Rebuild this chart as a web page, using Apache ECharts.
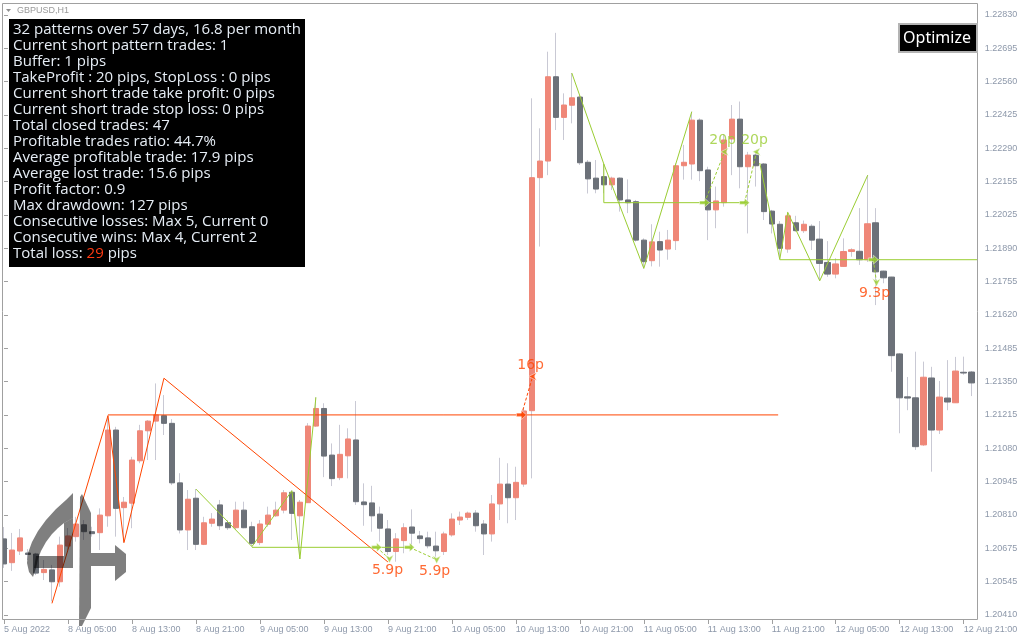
<!DOCTYPE html>
<html><head><meta charset="utf-8">
<script src="https://cdn.jsdelivr.net/npm/echarts/dist/echarts.min.js"></script>
<style>html,body{margin:0;padding:0;background:#fff}#c{width:1024px;height:640px}</style>
</head><body><div id="c"></div>
<script>
// ---- data (GBPUSD H1) ----
const tickLabels = ['5 Aug 2022','8 Aug 05:00','8 Aug 13:00','8 Aug 21:00','9 Aug 05:00','9 Aug 13:00','9 Aug 21:00','10 Aug 05:00','10 Aug 13:00','10 Aug 21:00','11 Aug 05:00','11 Aug 13:00','11 Aug 21:00','12 Aug 05:00','12 Aug 13:00','12 Aug 21:00'];
const priceLabels = ['1.20410','1.20545','1.20675','1.20810','1.20945','1.21080','1.21215','1.21350','1.21485','1.21620','1.21755','1.21890','1.22025','1.22155','1.22290','1.22425','1.22560','1.22695','1.22830'];
const opens = [1.20717,1.20621,1.20668,1.20660,1.20656,1.20581,1.20592,1.20544,1.20688,1.20726,1.20774,1.20746,1.20742,1.20810,1.21156,1.20843,1.20861,1.21032,1.21153,1.21192,1.21214,1.21183,1.20943,1.20753,1.20881,1.20695,1.20780,1.20854,1.20782,1.20762,1.20833,1.20766,1.20702,1.20776,1.20810,1.20833,1.20905,1.20810,1.20863,1.21172,1.21243,1.21055,1.20964,1.21052,1.21116,1.20866,1.20862,1.20817,1.20757,1.20666,1.20710,1.20765,1.20729,1.20721,1.20688,1.20666,1.20733,1.20793,1.20804,1.20821,1.20777,1.20737,1.20858,1.20938,1.20883,1.20938,1.21234,1.22174,1.22241,1.22581,1.22417,1.22466,1.22499,1.22236,1.22172,1.22178,1.22145,1.22172,1.22084,1.22077,1.21922,1.21839,1.21916,1.21886,1.21920,1.22222,1.22229,1.22406,1.22205,1.22044,1.22073,1.22330,1.22410,1.22218,1.22265,1.22229,1.22039,1.21986,1.21886,1.21992,1.21960,1.21978,1.21926,1.21832,1.21785,1.21816,1.21876,1.21877,1.21843,1.21992,1.21797,1.21773,1.21463,1.21290,1.21286,1.21096,1.21366,1.21156,1.21285,1.21266,1.21389,1.21390];
const closes = [1.20616,1.20672,1.20721,1.20654,1.20579,1.20594,1.20544,1.20692,1.20729,1.20777,1.20746,1.20738,1.20813,1.21156,1.20840,1.20865,1.21035,1.21153,1.21192,1.21217,1.21183,1.20943,1.20753,1.20877,1.20695,1.20782,1.20797,1.20770,1.20762,1.20833,1.20762,1.20699,1.20777,1.20813,1.20833,1.20903,1.20820,1.20865,1.21172,1.21243,1.21051,1.20960,1.21058,1.21120,1.20867,1.20855,1.20810,1.20760,1.20666,1.20717,1.20762,1.20740,1.20718,1.20689,1.20669,1.20737,1.20797,1.20805,1.20821,1.20770,1.20737,1.20858,1.20938,1.20883,1.20945,1.21233,1.22174,1.22241,1.22581,1.22417,1.22467,1.22496,1.22234,1.22169,1.22128,1.22145,1.22172,1.22084,1.22073,1.21922,1.21835,1.21915,1.21882,1.21922,1.22222,1.22236,1.22406,1.22202,1.22044,1.22080,1.22326,1.22410,1.22218,1.22265,1.22222,1.22037,1.21987,1.21889,1.22020,1.21960,1.21986,1.21922,1.21828,1.21785,1.21826,1.21876,1.21883,1.21843,1.21988,1.21794,1.21770,1.21456,1.21286,1.21285,1.21089,1.21369,1.21156,1.21289,1.21269,1.21394,1.21386,1.21346];
const lows = [1.20600,1.20588,1.20652,1.20632,1.20571,1.20551,1.20465,1.20524,1.20672,1.20706,1.20713,1.20726,1.20672,1.20766,1.20726,1.20702,1.20760,1.21022,1.21035,1.21035,1.21136,1.20934,1.20739,1.20672,1.20672,1.20692,1.20766,1.20753,1.20753,1.20753,1.20760,1.20686,1.20692,1.20766,1.20806,1.20820,1.20713,1.20636,1.20862,1.21169,1.20966,1.20930,1.20954,1.20961,1.20854,1.20770,1.20746,1.20706,1.20652,1.20625,1.20659,1.20672,1.20699,1.20679,1.20645,1.20652,1.20726,1.20773,1.20793,1.20746,1.20652,1.20706,1.20793,1.20780,1.20793,1.20927,1.20961,1.21896,1.22184,1.22366,1.22326,1.22393,1.22225,1.22110,1.22111,1.22111,1.22124,1.22037,1.22031,1.21916,1.21808,1.21816,1.21815,1.21843,1.21882,1.22166,1.22166,1.22160,1.21922,1.21970,1.22057,1.22184,1.22131,1.21949,1.22138,1.22003,1.21949,1.21845,1.21871,1.21956,1.21951,1.21882,1.21758,1.21774,1.21768,1.21815,1.21855,1.21822,1.21834,1.21660,1.21748,1.21391,1.21143,1.21236,1.21076,1.21092,1.20988,1.21140,1.21236,1.21265,1.21379,1.21293];
const highs = [1.20765,1.20741,1.20757,1.20676,1.20661,1.20632,1.20612,1.20726,1.20761,1.20806,1.20793,1.20766,1.20840,1.21214,1.21169,1.20886,1.21048,1.21177,1.21196,1.21344,1.21297,1.21200,1.20982,1.20914,1.20918,1.20806,1.20821,1.20874,1.20793,1.20867,1.20867,1.20786,1.20793,1.20847,1.20867,1.20914,1.20914,1.20874,1.21184,1.21288,1.21264,1.21102,1.21177,1.21163,1.21273,1.20941,1.20931,1.20847,1.20793,1.20740,1.20780,1.20836,1.20749,1.20746,1.20746,1.20746,1.20820,1.20827,1.20827,1.20833,1.20793,1.20894,1.21044,1.21022,1.21008,1.21246,1.22494,1.22373,1.22682,1.22758,1.22514,1.22596,1.22507,1.22245,1.22245,1.22229,1.22178,1.22175,1.22167,1.22084,1.21929,1.21986,1.21956,1.21963,1.22232,1.22306,1.22440,1.22413,1.22218,1.22138,1.22350,1.22467,1.22481,1.22278,1.22278,1.22233,1.22044,1.21999,1.22036,1.22020,1.22001,1.21986,1.21999,1.21918,1.21849,1.21929,1.21889,1.22051,1.22184,1.22051,1.21799,1.21774,1.21466,1.21370,1.21472,1.21432,1.21411,1.21354,1.21438,1.21451,1.21452,1.21394];

// pattern lines: [bar index, price]
const orangeZigzag = [[6,1.20457],[13,1.21214],[15,1.20702],[20,1.21365],[48,1.20624]];
const orangeNeck = [[13,1.21217],[96.8,1.21217]];
const greenZigzag1 = [[24,1.20918],[31,1.20686],[36,1.20911],[37,1.20636],[39,1.21288]];
const greenNeck1 = [[31,1.20683],[50.8,1.20683]];
const greenZigzag2 = [[71,1.22596],[75,1.22229],[80,1.21808],[86,1.22440]];
const greenDrop2 = [[75,1.22229],[75,1.22073]];
const greenNeck2 = [[75,1.22073],[92.9,1.22073]];
const greenZigzag3 = [[94.5,1.22233],[97,1.21844],[98,1.22034],[102,1.21758],[108,1.22184]];
const greenNeck3 = [[97,1.21843],[121.8,1.21843]];

// trades: entry bar, entry price, exit bar, exit price, label
const tradeEntryBar  = [64.7, 46.6, 50.7, 87.6, 92.6, 108.7];
const tradeEntryPrice= [1.21217, 1.20683, 1.20683, 1.22073, 1.22073, 1.21843];
const tradeExitBar   = [66.1, 48.2, 54.1, 90.1, 94.1, 109.1];
const tradeExitPrice = [1.21372, 1.20636, 1.20633, 1.22278, 1.22278, 1.21751];
const tradeLabels    = ['16p','5.9p','5.9p','20p','20p','9.3p'];
const tradeSide      = ['orange','green','green','green','green','green'];
const tradeWin       = [true,false,false,true,true,false];

const infoLines = ['32 patterns over 57 days, 16.8 per month','Current short pattern trades: 1','Buffer: 1 pips','TakeProfit : 20 pips, StopLoss : 0 pips','Current short trade take profit: 0 pips','Current short trade stop loss: 0 pips','Total closed trades: 47','Profitable trades ratio: 44.7%','Average profitable trade: 17.9 pips','Average lost trade: 15.6 pips','Profit factor: 0.9','Max drawdown: 127 pips','Consecutive losses: Max 5, Current 0','Consecutive wins: Max 4, Current 2'];
const totalLossLabel = 'Total loss: ';
const totalLossValue = '29';

// ---- styling ----
const BULL = '#ef8778', BEAR = '#6c7179', WICK = '#c9c9d4';
const ORANGE = '#ff4500', GREEN = '#9acd32';
const AXIS_TEXT = '#8d98aa', FRAME = '#a0a0a0';

const N = opens.length;
const cats = opens.map((_, i) => (i % 8 === 0 ? tickLabels[i / 8] : ''));
const Y_MIN = +priceLabels[0], Y_MAX = +priceLabels[priceLabels.length - 1];
const Y_INT = (Y_MAX - Y_MIN) / (priceLabels.length - 1);

const wickData = opens.map((o, i) => [o, closes[i], lows[i], highs[i]]);
const bodyData = opens.map((o, i) => [o, closes[i], Math.min(o, closes[i]), Math.max(o, closes[i])]);

function ln(data, color, extra) {
  return Object.assign({ type: 'line', xAxisIndex: 1, yAxisIndex: 0, data: data, symbol: 'none', silent: true,
    lineStyle: { color: color, width: 1 }, z: 5 }, extra || {});
}

const series = [
  { type: 'candlestick', xAxisIndex: 0, data: wickData, barWidth: 1, silent: true, z: 2,
    itemStyle: { color: WICK, color0: WICK, borderColor: WICK, borderColor0: WICK, borderWidth: 1 } },
  { type: 'candlestick', xAxisIndex: 0, data: bodyData, barWidth: 6, silent: true, z: 3,
    itemStyle: { color: BULL, color0: BEAR, borderColor: BULL, borderColor0: BEAR, borderWidth: 1 } },
  ln(orangeZigzag, ORANGE), ln(orangeNeck, ORANGE),
  ln(greenZigzag1, GREEN), ln(greenNeck1, GREEN),
  ln(greenZigzag2, GREEN), ln(greenDrop2, GREEN), ln(greenNeck2, GREEN),
  ln(greenZigzag3, GREEN), ln(greenNeck3, GREEN, { clip: false })
];

const ENTRY_SYM = 'path://M0,3 L5,3 L5,0 L10,5 L5,10 L5,7 L0,7 Z';
const EXIT_UP_SYM = 'path://M10,0 L0,5 L10,10 L7,5 Z';
const EXIT_DN_SYM = 'path://M0,0 L5,10 L10,0 L5,3 Z';
for (let i = 0; i < tradeLabels.length; i++) {
  const col = tradeSide[i] === 'orange' ? ORANGE : GREEN;
  const up = tradeExitPrice[i] > tradeEntryPrice[i];
  const e = [tradeEntryBar[i], tradeEntryPrice[i]], x = [tradeExitBar[i], tradeExitPrice[i]];
  series.push(ln([e, x], col, { lineStyle: { color: col, width: 1, type: [3, 2] }, z: 6 }));
  series.push({ type: 'scatter', xAxisIndex: 1, data: [e], symbol: ENTRY_SYM, symbolSize: [10, 9], silent: true, z: 7,
    itemStyle: { color: col, borderColor: '#fff', borderWidth: 0.6 } });
  series.push({ type: 'scatter', xAxisIndex: 1, data: [x], symbol: up ? EXIT_UP_SYM : EXIT_DN_SYM, symbolSize: [8, 8], silent: true, z: 7,
    itemStyle: { color: col, borderColor: '#fff', borderWidth: 0.6 },
    label: { show: true, formatter: tradeLabels[i], position: up ? 'top' : 'bottom', distance: 0, offset: [-2, 0],
      color: tradeWin[i] && tradeSide[i] === 'green' ? GREEN : ORANGE, fontSize: 14, fontFamily: 'DejaVu Sans' } });
}

// watermark logo (decorative)
const LOGO = 'rgba(0,0,0,0.5)';
const logo = [
  { type: 'polygon', shape: { points: [[80,497],[82,494],[91,513],[91,608],[82,626],[79,626]] } },
  { type: 'polygon', shape: { points: [[73,493],[66,500],[56,509],[46,520],[38,531],[32,542],[28,553],[27,563],[29,572],[33,577],[36,568],[38,559],[41,551],[46,542],[52,534],[58,528],[64,523],[73,518]] } },
  { type: 'polygon', shape: { points: [[64,523],[73,518],[73,568],[64,568]] } },
  { type: 'polygon', shape: { points: [[36,556],[64,556],[64,568],[34,568]] } },
  { type: 'polygon', shape: { points: [[91,553],[115,553],[115,566],[91,566]] } },
  { type: 'polygon', shape: { points: [[115,545],[126,554],[126,572],[115,581]] } }
].map(g => Object.assign(g, { style: { fill: LOGO }, z: 50, silent: true }));

const graphics = logo.concat([
  { type: 'rect', shape: { x: 0, y: 0, width: 2, height: 640 }, style: { fill: '#fff' }, z: 90, silent: true },
  { type: 'rect', shape: { x: 2.5, y: 3.5, width: 975, height: 616 }, style: { fill: null, stroke: FRAME, lineWidth: 1 }, z: 91, silent: true },
  { type: 'polygon', shape: { points: [[6,9],[11,9],[8.5,12]] }, style: { fill: '#909090' }, z: 92 },
  { type: 'text', x: 17, y: 11, style: { text: 'GBPUSD,H1', fill: '#9a9a9a', font: '9px "Liberation Sans"', textVerticalAlign: 'middle' }, z: 92 },
  { type: 'rect', shape: { x: 9, y: 19, width: 296, height: 248 }, style: { fill: '#000' }, z: 95 },
  { type: 'text', x: 13, y: 22, z: 96, style: {
      text: infoLines.join('\n') + '\n' + totalLossLabel + '{r|' + totalLossValue + '} pips',
      fill: '#e6edf5', font: '15px "Open Sans"', lineHeight: 16,
      rich: { r: { fill: '#ff3a12', font: '15px "Open Sans"', lineHeight: 16 } } } },
  { type: 'rect', shape: { x: 899, y: 24, width: 78, height: 28 }, style: { fill: '#000', stroke: '#b4b4b4', lineWidth: 2 }, z: 95 },
  { type: 'text', x: 937, y: 38.5, z: 96, style: { text: 'Optimize', fill: '#fff', font: '16px "Noto Sans"', textAlign: 'center', textVerticalAlign: 'middle' } }
]);

const chart = echarts.init(document.getElementById('c'), null, { renderer: 'canvas' });
chart.setOption({
  animation: false,
  backgroundColor: '#ffffff',
  grid: { left: -0.3, width: 976, top: 15, height: 600, containLabel: false },
  xAxis: [
    { type: 'category', data: cats, boundaryGap: true, offset: 5,
      axisLine: { show: false },
      axisTick: { show: true, interval: 7, alignWithLabel: true, length: 4, lineStyle: { color: FRAME } },
      axisLabel: { interval: 7, align: 'left', margin: 5, color: AXIS_TEXT, fontSize: 9, fontFamily: 'Liberation Sans' },
      splitLine: { show: false } },
    { type: 'value', min: -0.5, max: N - 0.5, show: false, splitLine: { show: false } }
  ],
  yAxis: [{ type: 'value', position: 'right', min: Y_MIN, max: Y_MAX, interval: Y_INT, offset: 2,
    axisLine: { show: false },
    axisTick: { show: true, length: 4, lineStyle: { color: FRAME } },
    axisLabel: { margin: 7, color: AXIS_TEXT, fontSize: 9, fontFamily: 'Liberation Sans',
      formatter: v => priceLabels[Math.round((v - Y_MIN) / Y_INT)] || '' },
    splitLine: { show: false } }],
  series: series,
  graphic: graphics
});
</script>
</body></html>
